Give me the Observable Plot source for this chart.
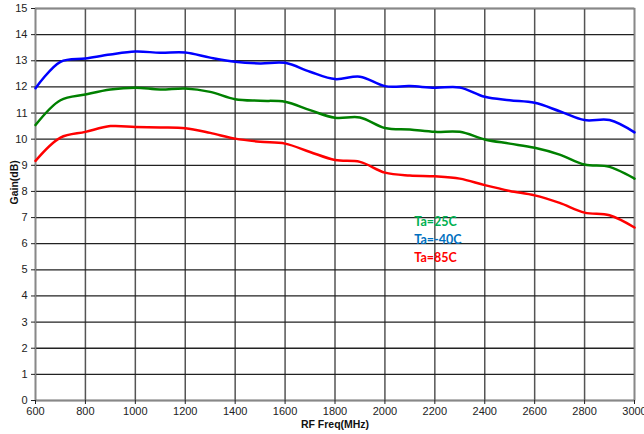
<!DOCTYPE html>
<html>
<head>
<meta charset="utf-8">
<script src="https://cdn.jsdelivr.net/npm/d3@7"></script>
<script src="https://cdn.jsdelivr.net/npm/@observablehq/plot@0.6"></script>
<style>
  body { margin: 0; background: #fff; }
  #chart svg { display: block; }
</style>
</head>
<body>
<div id="chart"></div>
<script>
const freq = [600,700,800,900,1000,1100,1200,1300,1400,1500,1600,1700,1800,1900,2000,2100,2200,2300,2400,2500,2600,2700,2800,2900,3000];
const gainM40 = [11.95,12.96,13.09,13.24,13.35,13.31,13.32,13.12,12.96,12.90,12.92,12.58,12.30,12.39,12.03,12.03,11.97,11.98,11.62,11.49,11.39,11.07,10.73,10.73,10.26];
const gain25 = [10.54,11.49,11.71,11.90,11.97,11.90,11.94,11.81,11.53,11.47,11.43,11.11,10.82,10.83,10.43,10.37,10.28,10.28,9.99,9.83,9.67,9.41,9.03,8.94,8.49];
const gain85 = [9.17,10.06,10.28,10.50,10.47,10.45,10.42,10.24,10.02,9.90,9.83,9.51,9.20,9.13,8.72,8.61,8.58,8.49,8.24,8.02,7.85,7.56,7.19,7.09,6.62];
const seriesNames = ["Ta=25C", "Ta=-40C", "Ta=85C"];
const seriesColors = ["#008000", "#0000ff", "#ff0000"];
const labelColors = ["#00b050", "#0070c0", "#ff0000"];
const labelPos = [{x: 2118, y: 6.82}, {x: 2118, y: 6.13}, {x: 2118, y: 5.44}];
const xTicks = [600,800,1000,1200,1400,1600,1800,2000,2200,2400,2600,2800,3000];
const yTicks = d3.range(0, 16);

const seriesValues = [gain25, gainM40, gain85];
const data = [];
seriesNames.forEach((s, i) => freq.forEach((f, j) => data.push({series: s, freq: f, gain: seriesValues[i][j]})));
const labels = seriesNames.map((s, i) => ({series: s, x: labelPos[i].x, y: labelPos[i].y, color: labelColors[i]}));

const chart = Plot.plot({
  width: 644,
  height: 434,
  marginLeft: 35,
  marginRight: 10,
  marginTop: 8,
  marginBottom: 34,
  style: {fontFamily: "'Liberation Sans', Arial, sans-serif", fontSize: "11px", color: "#222", background: "#fff"},
  x: {domain: [600, 3000], ticks: xTicks},
  y: {domain: [0, 15], ticks: yTicks},
  color: {domain: seriesNames, range: seriesColors},
  marks: [
    Plot.ruleX(xTicks, {stroke: "#555", strokeWidth: 1.5}),
    Plot.ruleY(yTicks, {stroke: "#222", strokeWidth: 1.3}),
    Plot.frame({stroke: "#888", strokeWidth: 1.5}),
    Plot.axisX({ticks: xTicks, tickSize: 4, tickPadding: 3, label: null, tickFormat: d => String(d), stroke: "#222"}),
    Plot.axisY({ticks: yTicks, tickSize: 4, tickPadding: 4, label: null, stroke: "#222"}),
    Plot.line(data, {x: "freq", y: "gain", stroke: "series", z: "series", strokeWidth: 2.5, curve: "catmull-rom"}),
    Plot.text(labels, {x: "x", y: "y", text: "series", fill: "color", textAnchor: "start", fontSize: 12.5, fontWeight: "bold", fontFamily: "Lato, 'Open Sans', sans-serif"}),
    Plot.text(["Gain(dB)"], {frameAnchor: "left", dx: -21, rotate: -90, fontWeight: "bold", fontSize: 10.5, fill: "#111"}),
    Plot.text(["RF Freq(MHz)"], {frameAnchor: "bottom", dy: 27, fontWeight: "bold", fontSize: 10.5, fill: "#111"})
  ]
});
document.getElementById("chart").append(chart);
</script>
</body>
</html>
